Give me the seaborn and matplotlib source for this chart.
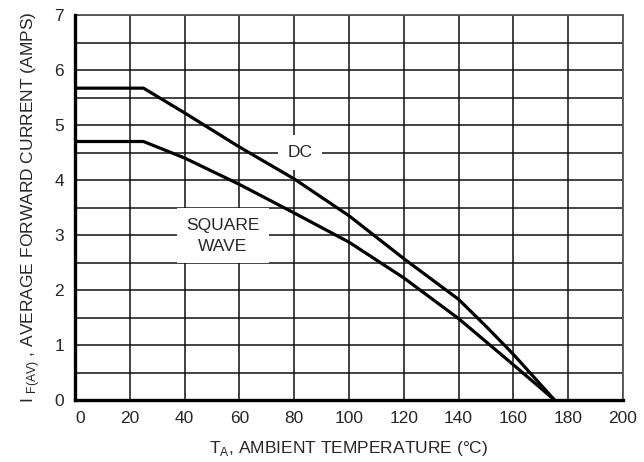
import matplotlib
matplotlib.use("Agg")
import matplotlib.pyplot as plt
import seaborn as sns
import pandas as pd
from matplotlib import font_manager

# ---- data ----
temp_dc = [0, 25, 40, 60, 80, 100, 120, 130, 140, 150, 160, 175]
amps_dc = [5.67, 5.67, 5.22, 4.60, 4.02, 3.35, 2.57, 2.20, 1.83, 1.34, 0.83, 0.0]
temp_sq = [0, 25, 40, 60, 80, 100, 120, 140, 160, 175]
amps_sq = [4.70, 4.70, 4.40, 3.92, 3.40, 2.87, 2.22, 1.48, 0.64, 0.0]

x_ticks = [0, 20, 40, 60, 80, 100, 120, 140, 160, 180, 200]
y_ticks = [0, 1, 2, 3, 4, 5, 6, 7]
y_grid = [0.5 * i for i in range(15)]

sns.set_style("white")
names = {f.name for f in font_manager.fontManager.ttflist}
fam = "Liberation Sans Narrow" if "Liberation Sans Narrow" in names else "Liberation Sans"
plt.rcParams["font.family"] = [fam, "DejaVu Sans"]
plt.rcParams["mathtext.fontset"] = "custom"
plt.rcParams["mathtext.rm"] = fam

df = pd.concat([
    pd.DataFrame({"T": temp_dc, "I": amps_dc, "curve": "DC"}),
    pd.DataFrame({"T": temp_sq, "I": amps_sq, "curve": "SQUARE WAVE"}),
])

FS = 12.5
fig = plt.figure(figsize=(6.44, 4.62), dpi=100)
ax = fig.add_axes([75 / 644, 62 / 462, 548 / 644, 385 / 462])

for yv in y_grid:
    ax.axhline(yv, color="#111111", lw=1.1, zorder=1)
for xv in x_ticks:
    ax.axvline(xv, color="#111111", lw=1.1, zorder=1)

sns.lineplot(data=df, x="T", y="I", units="curve", estimator=None,
             color="black", lw=2.3, ax=ax, zorder=4, legend=False, sort=False)

ax.set_xlim(0, 200)
ax.set_ylim(0, 7)
ax.set_xticks(x_ticks)
ax.set_yticks(y_ticks)
ax.set_xticklabels([str(v) for v in x_ticks])
ax.set_yticklabels([str(v) for v in y_ticks])
ax.tick_params(length=0, labelsize=FS, pad=8)
xl = ax.get_xticklabels()
xl[0].set_horizontalalignment("left")

for s in ["left", "bottom"]:
    ax.spines[s].set_linewidth(2.4)
    ax.spines[s].set_color("black")
    ax.spines[s].set_zorder(5)
for s in ["top", "right"]:
    ax.spines[s].set_linewidth(1.3)
    ax.spines[s].set_color("#555555")

ax.text(82, 4.5, "DC", ha="center", va="center", fontsize=FS, zorder=3,
        bbox=dict(boxstyle="square,pad=0.55", fc="white", ec="none"))
ax.text(54, 2.99, "SQUARE\nWAVE", ha="center", va="center", fontsize=FS,
        linespacing=1.5, zorder=3,
        bbox=dict(boxstyle="square,pad=0.55", fc="white", ec="none"))

ax.set_xlabel(r"T$_{\mathregular{A}}$, AMBIENT TEMPERATURE (°C)", fontsize=FS, labelpad=9)
ax.set_ylabel(r"I $_{\mathregular{F(AV)}}$ , AVERAGE FORWARD CURRENT (AMPS)", fontsize=FS, labelpad=9)

fig.savefig("out.png", dpi=100)
